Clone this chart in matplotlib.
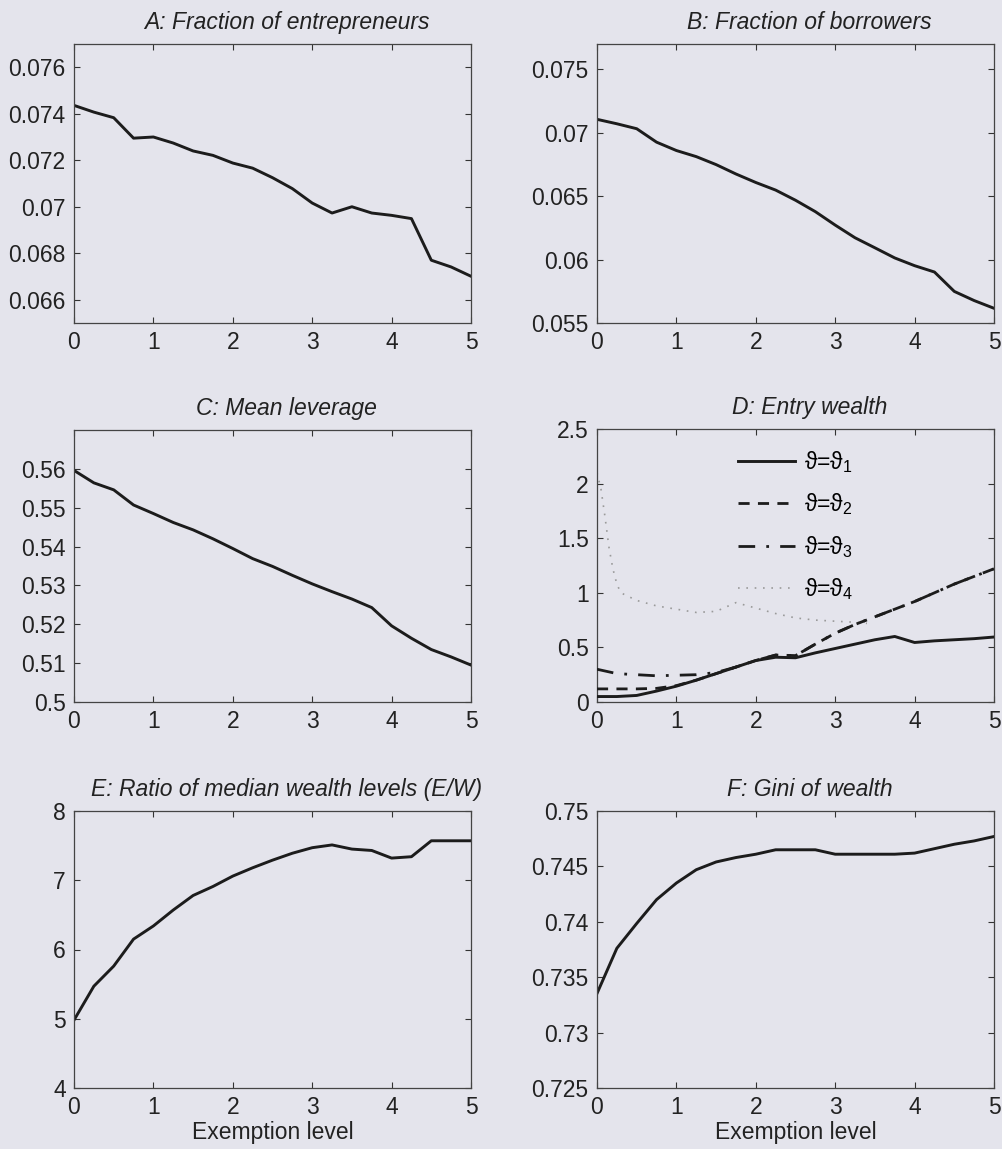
import matplotlib
matplotlib.use('Agg')
import matplotlib.pyplot as plt
import numpy as np

# exemption grid shared by the single-line panels
exemption = [0, 0.25, 0.5, 0.75, 1.0, 1.25, 1.5, 1.75, 2.0, 2.25, 2.5,
             2.75, 3.0, 3.25, 3.5, 3.75, 4.0, 4.25, 4.5, 4.75, 5.0]

frac_entrepreneurs = [0.07436, 0.07407, 0.07383, 0.07295, 0.0730, 0.07274, 0.0724,
                      0.07221, 0.07188, 0.07166, 0.07125, 0.07078, 0.07016, 0.06973,
                      0.0700, 0.06973, 0.06963, 0.06949, 0.0677, 0.06741, 0.06701]
frac_borrowers = [0.07106, 0.07071, 0.07032, 0.06926, 0.0686, 0.06812, 0.06749,
                  0.06675, 0.06608, 0.06548, 0.06468, 0.06378, 0.06272, 0.06172,
                  0.06093, 0.06013, 0.05952, 0.05902, 0.05749, 0.05677, 0.05616]
mean_leverage = [0.5596, 0.5564, 0.5546, 0.5507, 0.5485, 0.5462, 0.5443, 0.5420,
                 0.5395, 0.5369, 0.5349, 0.5326, 0.5304, 0.5284, 0.5265, 0.5243,
                 0.5196, 0.5164, 0.5135, 0.5116, 0.5095]
median_ratio = [4.98, 5.47, 5.76, 6.15, 6.34, 6.57, 6.78, 6.91, 7.06, 7.18, 7.29,
                7.39, 7.47, 7.51, 7.45, 7.43, 7.32, 7.34, 7.57, 7.57, 7.57]
gini_wealth = [0.73353, 0.73761, 0.73985, 0.7420, 0.7435, 0.7447, 0.7454, 0.7458,
               0.7461, 0.7465, 0.7465, 0.7465, 0.7461, 0.7461, 0.7461, 0.7461,
               0.7462, 0.7466, 0.7470, 0.7473, 0.7477]

# panel D: entry wealth by type
entry_theta1 = [0.05, 0.05, 0.06, 0.10, 0.145, 0.20, 0.26, 0.32, 0.38, 0.41, 0.405,
                0.45, 0.49, 0.53, 0.57, 0.60, 0.545, 0.56, 0.57, 0.58, 0.595]
entry_theta2 = [0.12, 0.12, 0.12, 0.125, 0.15, 0.20, 0.26, 0.32, 0.38, 0.43, 0.425,
                0.53, 0.63, 0.71, 0.78, 0.85, 0.92, 1.0, 1.08, 1.15, 1.22]
entry_theta3 = [0.30, 0.26, 0.25, 0.24, 0.245, 0.25, 0.27, 0.32, 0.38, 0.43, 0.425,
                0.53, 0.63, 0.71, 0.78, 0.85, 0.92, 1.0, 1.08, 1.15, 1.22]
exemption_theta4 = [0, 0.05, 0.1, 0.15, 0.2, 0.25, 0.3, 0.5, 0.75, 1.0, 1.25, 1.5,
                    1.75, 2.0, 2.25, 2.5, 2.75, 3.0, 3.25, 3.4]
entry_theta4 = [2.1, 1.95, 1.70, 1.42, 1.22, 1.08, 1.0, 0.93, 0.88, 0.85, 0.82, 0.83,
                0.91, 0.86, 0.81, 0.77, 0.75, 0.74, 0.73, 0.72]
theta_labels = ['ϑ=ϑ$_1$', 'ϑ=ϑ$_2$', 'ϑ=ϑ$_3$', 'ϑ=ϑ$_4$']

bg = '#e4e4ec'
ink = '#1c1c1c'
fs = 16.5

plt.rcParams['font.family'] = ['Liberation Sans', 'DejaVu Sans']
plt.rcParams['mathtext.fontset'] = 'custom'
plt.rcParams['mathtext.rm'] = 'Liberation Sans'

fig = plt.figure(figsize=(10.03, 11.49), dpi=100, facecolor=bg)

W, H = 1003.0, 1149.0
def add_panel(left, top, right, bottom):
    return fig.add_axes([left / W, 1 - bottom / H, (right - left) / W, (bottom - top) / H])

axA = add_panel(74, 44, 471, 323)
axB = add_panel(597, 44, 994, 323)
axC = add_panel(74, 430, 471, 702)
axD = add_panel(597, 429, 994, 702)
axE = add_panel(74, 811, 471, 1088)
axF = add_panel(597, 811, 994, 1088)

def style(ax, title, ylim, yticks, ylabels=None):
    ax.set_facecolor(bg)
    ax.set_xlim(0, 5)
    ax.set_ylim(*ylim)
    ax.set_xticks([0, 1, 2, 3, 4, 5])
    ax.set_yticks(yticks)
    if ylabels is not None:
        ax.set_yticklabels(ylabels)
    ax.tick_params(direction='in', length=4, width=0.8, top=True, right=True,
                   labelsize=fs, colors='#333333', labelcolor='#222222', pad=6)
    for s in ax.spines.values():
        s.set_color('#444444')
        s.set_linewidth(0.9)
    ax.set_title(title, fontsize=fs, style='italic', color='#222222', x=0.535, pad=11)

axA.plot(exemption, frac_entrepreneurs, color=ink, lw=2.1)
style(axA, 'A: Fraction of entrepreneurs', (0.065, 0.077),
      [0.066, 0.068, 0.07, 0.072, 0.074, 0.076],
      ['0.066', '0.068', '0.07', '0.072', '0.074', '0.076'])

axB.plot(exemption, frac_borrowers, color=ink, lw=2.1)
style(axB, 'B: Fraction of borrowers', (0.055, 0.077),
      [0.055, 0.06, 0.065, 0.07, 0.075],
      ['0.055', '0.06', '0.065', '0.07', '0.075'])

axC.plot(exemption, mean_leverage, color=ink, lw=2.1)
style(axC, 'C: Mean leverage', (0.5, 0.57),
      [0.5, 0.51, 0.52, 0.53, 0.54, 0.55, 0.56],
      ['0.5', '0.51', '0.52', '0.53', '0.54', '0.55', '0.56'])

# dotted type drawn first so the dark lines sit on top
axD.plot(exemption_theta4, entry_theta4, color='#9a9a9a', lw=1.2, ls=(0, (1, 4)),
         label=theta_labels[3], zorder=2)
axD.plot(exemption, entry_theta3, color=ink, lw=2, ls=(0, (6, 4, 1, 4)),
         label=theta_labels[2], zorder=3)
axD.plot(exemption, entry_theta2, color=ink, lw=2, ls=(0, (4, 3)),
         label=theta_labels[1], zorder=3)
axD.plot(exemption, entry_theta1, color=ink, lw=2.1, label=theta_labels[0], zorder=4)
style(axD, 'D: Entry wealth', (0, 2.5), [0, 0.5, 1, 1.5, 2, 2.5],
      ['0', '0.5', '1', '1.5', '2', '2.5'])
handles, labels = axD.get_legend_handles_labels()
axD.legend(handles[::-1], labels[::-1], loc='upper left', bbox_to_anchor=(0.302, 1.003),
           frameon=False, fontsize=fs, handlelength=2.5, labelspacing=0.72,
           handletextpad=0.4)

axE.plot(exemption, median_ratio, color=ink, lw=2.1)
style(axE, 'E: Ratio of median wealth levels (E/W)', (4, 8), [4, 5, 6, 7, 8],
      ['4', '5', '6', '7', '8'])
axE.set_xlabel('Exemption level', fontsize=fs, color='#222222', labelpad=1)

axF.plot(exemption, gini_wealth, color=ink, lw=2.1)
style(axF, 'F: Gini of wealth', (0.725, 0.75),
      [0.725, 0.73, 0.735, 0.74, 0.745, 0.75],
      ['0.725', '0.73', '0.735', '0.74', '0.745', '0.75'])
axF.set_xlabel('Exemption level', fontsize=fs, color='#222222', labelpad=1)

fig.savefig('out.png', dpi=100, facecolor=bg)
